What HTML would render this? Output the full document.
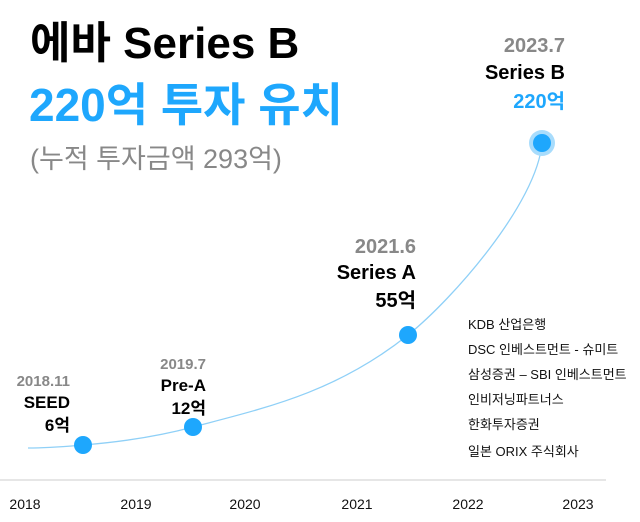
<!DOCTYPE html>
<html><head><meta charset="utf-8"><style>
body{margin:0;width:640px;height:522px;background:#fff;position:relative;overflow:hidden;font-family:"Liberation Sans","Noto Sans CJK KR",sans-serif}
.a{position:absolute;white-space:nowrap;line-height:1}
.r{text-align:right}
.g{color:#888;font-weight:bold}
.b{color:#000;font-weight:bold}
.bl{color:#1ea7fd;font-weight:bold}
.inv{font-size:13px;color:#111;left:468px}
.yr{font-size:14px;color:#111;top:497px;width:60px;text-align:center}
</style></head><body>
<div class="a b" style="left:30px;top:22px;font-size:44px">에바 Series B</div>
<div class="a bl" style="left:29px;top:82px;font-size:46px">220억 투자 유치</div>
<div class="a" style="left:30px;top:146px;font-size:27px;color:#888">(누적 투자금액 293억)</div>

<svg class="a" style="left:0;top:0" width="640" height="522">
<line x1="0" y1="480" x2="606" y2="480" stroke="#ddd" stroke-width="1.5"/>
<path d="M28,448 C50,448 65,446.5 83,445 C120,442 156,437 193,427 C265,408 336,392.6 408,335 C453,299 537,203 542,143" fill="none" stroke="#8fd0f7" stroke-width="1.3"/>
<circle cx="83" cy="445" r="9" fill="#1ea7fd"/>
<circle cx="193" cy="427" r="9" fill="#1ea7fd"/>
<circle cx="408" cy="335" r="9" fill="#1ea7fd"/>
<circle cx="542" cy="143" r="13" fill="#a8dcfc"/>
<circle cx="542" cy="143" r="9" fill="#1ea7fd"/>
</svg>

<div class="a g r" style="right:570px;top:374px;font-size:15px">2018.11</div>
<div class="a b r" style="right:570px;top:394px;font-size:17px">SEED</div>
<div class="a b r" style="right:570px;top:417px;font-size:17px">6억</div>

<div class="a g r" style="right:434px;top:357px;font-size:15px">2019.7</div>
<div class="a b r" style="right:434px;top:377px;font-size:17px">Pre-A</div>
<div class="a b r" style="right:434px;top:400px;font-size:17px">12억</div>

<div class="a g r" style="right:224px;top:237px;font-size:20px">2021.6</div>
<div class="a b r" style="right:224px;top:263px;font-size:20px">Series A</div>
<div class="a b r" style="right:224px;top:291px;font-size:20px">55억</div>

<div class="a g r" style="right:75px;top:36px;font-size:20px">2023.7</div>
<div class="a b r" style="right:75px;top:63px;font-size:20px">Series B</div>
<div class="a bl r" style="right:75px;top:92px;font-size:20px">220억</div>

<div class="a inv" style="top:318px">KDB 산업은행</div>
<div class="a inv" style="top:343px">DSC 인베스트먼트 - 슈미트</div>
<div class="a inv" style="top:368px">삼성증권 – SBI 인베스트먼트</div>
<div class="a inv" style="top:393px">인비저닝파트너스</div>
<div class="a inv" style="top:418px">한화투자증권</div>
<div class="a inv" style="top:445px">일본 ORIX 주식회사</div>

<div class="a yr" style="left:-5px">2018</div>
<div class="a yr" style="left:106px">2019</div>
<div class="a yr" style="left:215px">2020</div>
<div class="a yr" style="left:327px">2021</div>
<div class="a yr" style="left:438px">2022</div>
<div class="a yr" style="left:548px">2023</div>
</body></html>
